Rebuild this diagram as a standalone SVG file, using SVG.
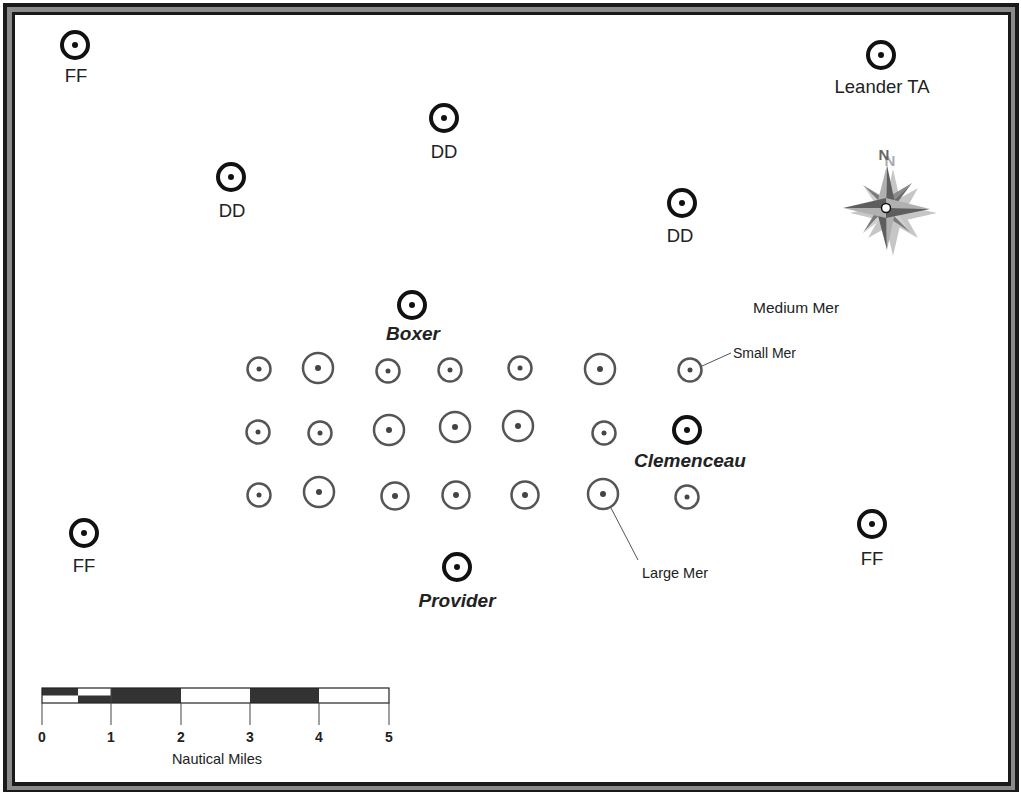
<svg xmlns="http://www.w3.org/2000/svg" width="1021" height="792" viewBox="0 0 1021 792">
<defs>
<style>
.ship circle.o{fill:none;stroke:#111;stroke-width:4}
.ship circle.d{fill:#111}
.mer circle.o{fill:none;stroke:#555;stroke-width:2.5}
.mer circle.d{fill:#444}
.lbl{font-family:"Liberation Sans",Arial,sans-serif;font-size:18.5px;fill:#222;text-anchor:middle}
.name{font-family:"Liberation Sans",Arial,sans-serif;font-size:19px;font-weight:bold;font-style:italic;fill:#222;text-anchor:middle}
.sm{font-family:"Liberation Sans",Arial,sans-serif;fill:#222}
.lead{stroke:#555;stroke-width:1;fill:none}
.num{font-family:"Liberation Sans",Arial,sans-serif;font-size:14px;font-weight:bold;fill:#222;text-anchor:middle}
</style>
</defs>
<rect x="0" y="0" width="1021" height="792" fill="#fff"/>
<!-- frame -->
<rect x="3" y="3" width="1016" height="794" fill="#1a1a1a"/>
<rect x="7" y="7" width="1008" height="783" fill="#8a8a8a"/>
<rect x="12" y="12" width="999" height="774" fill="#1a1a1a"/>
<rect x="15" y="15" width="993" height="767" fill="#fff"/>

<g id="ff-nw" class="ship"><circle class="o" cx="75" cy="45" r="13"/><circle class="d" cx="75" cy="45" r="3"/><text class="lbl" x="76" y="82">FF</text></g>
<g id="leander" class="ship"><circle class="o" cx="881" cy="55" r="13"/><circle class="d" cx="881" cy="55" r="3"/><text class="lbl" x="882" y="93">Leander TA</text></g>
<g id="dd-n" class="ship"><circle class="o" cx="444" cy="118" r="13"/><circle class="d" cx="444" cy="118" r="3"/><text class="lbl" x="444" y="158">DD</text></g>
<g id="dd-w" class="ship"><circle class="o" cx="231" cy="177" r="13"/><circle class="d" cx="231" cy="177" r="3"/><text class="lbl" x="232" y="217">DD</text></g>
<g id="dd-e" class="ship"><circle class="o" cx="682" cy="203" r="13"/><circle class="d" cx="682" cy="203" r="3"/><text class="lbl" x="680" y="242">DD</text></g>
<g id="boxer" class="ship"><circle class="o" cx="412" cy="305" r="13"/><circle class="d" cx="412" cy="305" r="3"/><text class="name" x="413" y="340">Boxer</text></g>
<g id="clemenceau" class="ship"><circle class="o" cx="687" cy="430" r="13"/><circle class="d" cx="687" cy="430" r="3"/><text class="name" x="690" y="467">Clemenceau</text></g>
<g id="ff-sw" class="ship"><circle class="o" cx="84" cy="533" r="13"/><circle class="d" cx="84" cy="533" r="3"/><text class="lbl" x="84" y="572">FF</text></g>
<g id="ff-se" class="ship"><circle class="o" cx="872" cy="524" r="13"/><circle class="d" cx="872" cy="524" r="3"/><text class="lbl" x="872" y="565">FF</text></g>
<g id="provider" class="ship"><circle class="o" cx="457" cy="567" r="13"/><circle class="d" cx="457" cy="567" r="3"/><text class="name" x="457" y="607">Provider</text></g>

<g id="mers" class="mer">
<circle class="o" cx="259" cy="369" r="11.5"/><circle class="d" cx="259" cy="369" r="2.5"/>
<circle class="o" cx="318" cy="368" r="15"/><circle class="d" cx="318" cy="368" r="3"/>
<circle class="o" cx="388" cy="371" r="11.5"/><circle class="d" cx="388" cy="371" r="2.5"/>
<circle class="o" cx="450" cy="370" r="11.5"/><circle class="d" cx="450" cy="370" r="2.5"/>
<circle class="o" cx="520" cy="368" r="11.5"/><circle class="d" cx="520" cy="368" r="2.5"/>
<circle class="o" cx="600" cy="369" r="15"/><circle class="d" cx="600" cy="369" r="3"/>
<circle class="o" cx="690" cy="370" r="11.5"/><circle class="d" cx="690" cy="370" r="2.5"/>

<circle class="o" cx="258" cy="432" r="11.5"/><circle class="d" cx="258" cy="432" r="2.5"/>
<circle class="o" cx="320" cy="433" r="11.5"/><circle class="d" cx="320" cy="433" r="2.5"/>
<circle class="o" cx="389" cy="430" r="15"/><circle class="d" cx="389" cy="430" r="3"/>
<circle class="o" cx="455" cy="427" r="15"/><circle class="d" cx="455" cy="427" r="3"/>
<circle class="o" cx="518" cy="426" r="15"/><circle class="d" cx="518" cy="426" r="3"/>
<circle class="o" cx="604" cy="433" r="11.5"/><circle class="d" cx="604" cy="433" r="2.5"/>

<circle class="o" cx="259" cy="495" r="11.5"/><circle class="d" cx="259" cy="495" r="2.5"/>
<circle class="o" cx="319" cy="492" r="15"/><circle class="d" cx="319" cy="492" r="3"/>
<circle class="o" cx="395" cy="496" r="13.5"/><circle class="d" cx="395" cy="496" r="3"/>
<circle class="o" cx="456" cy="495" r="13.5"/><circle class="d" cx="456" cy="495" r="3"/>
<circle class="o" cx="525" cy="495" r="13.5"/><circle class="d" cx="525" cy="495" r="3"/>
<circle class="o" cx="603" cy="494" r="15"/><circle class="d" cx="603" cy="494" r="3"/>
<circle class="o" cx="687" cy="497" r="11.5"/><circle class="d" cx="687" cy="497" r="2.5"/>
</g>

<g id="connectors">
<line class="lead" x1="702" y1="366" x2="731" y2="353"/>
<line class="lead" x1="611" y1="508" x2="638" y2="560"/>
</g>

<g id="labels">
<text class="sm" x="753" y="313" font-size="15.5">Medium Mer</text>
<text class="sm" x="733" y="358" font-size="14">Small Mer</text>
<text class="sm" x="642" y="578" font-size="14.5">Large Mer</text>
</g>

<g id="compass">
<g transform="translate(893,213)" fill="#c6c6c6">
<polygon points="0,-44 10,0 0,43 -10,0"/>
<polygon points="-43,0 0,-10 44,0 0,10"/>
<polygon points="-25,-25 7,-7 25,25 -7,7"/>
<polygon points="25,-25 7,7 -25,25 -7,-7"/>
</g>
<g transform="translate(886,208)">
<polygon points="26,-25 0,0 7,-7" fill="#d9d9d9"/><polygon points="26,-25 0,0 -1,-9" fill="#8a8a8a"/>
<polygon points="26,-25 8,-1 0,0" fill="#6a6a6a"/>
<polygon points="-23,-23 -8,0 0,0" fill="#d0d0d0"/><polygon points="-23,-23 0,-8 0,0" fill="#7a7a7a"/>
<polygon points="24,24 8,0 0,0" fill="#d0d0d0"/><polygon points="24,24 0,8 0,0" fill="#7a7a7a"/>
<polygon points="-23,25 -8,0 0,0" fill="#7a7a7a"/><polygon points="-23,25 0,8 0,0" fill="#d0d0d0"/>
<polygon points="1,-43 -10,0 0,0" fill="#b0b0b0"/><polygon points="1,-43 10,0 0,0" fill="#5e5e5e"/>
<polygon points="1,42 10,0 0,0" fill="#b0b0b0"/><polygon points="1,42 -10,0 0,0" fill="#5e5e5e"/>
<polygon points="44,1 0,-10 0,0" fill="#b0b0b0"/><polygon points="44,1 0,10 0,0" fill="#5e5e5e"/>
<polygon points="-43,0 0,10 0,0" fill="#b0b0b0"/><polygon points="-43,0 0,-10 0,0" fill="#5e5e5e"/>
<circle cx="0" cy="0" r="4.5" fill="#fff" stroke="#111" stroke-width="1.5"/>
</g>
<text x="890" y="166" font-family="Liberation Sans,Arial,sans-serif" font-size="15" font-weight="bold" fill="#aaa" text-anchor="middle">N</text>
<text x="884" y="160" font-family="Liberation Sans,Arial,sans-serif" font-size="15" font-weight="bold" fill="#666" text-anchor="middle">N</text>
</g>

<g id="scale">
<rect x="42" y="688" width="347" height="15" fill="#fff"/>
<rect x="42" y="688" width="36" height="7.5" fill="#333"/>
<rect x="78" y="695.5" width="33" height="7.5" fill="#333"/>
<rect x="111" y="688" width="70" height="15" fill="#333"/>
<rect x="250" y="688" width="69" height="15" fill="#333"/>
<rect x="42" y="688" width="347" height="15" fill="none" stroke="#222" stroke-width="1.2"/>
<g stroke="#444" stroke-width="1">
<line x1="42" y1="703" x2="42" y2="725"/><line x1="111" y1="688" x2="111" y2="725"/>
<line x1="181" y1="703" x2="181" y2="725"/><line x1="250" y1="703" x2="250" y2="725"/>
<line x1="319" y1="703" x2="319" y2="725"/><line x1="389" y1="703" x2="389" y2="725"/>
</g>
<text class="num" x="42" y="742">0</text><text class="num" x="111" y="742">1</text>
<text class="num" x="181" y="742">2</text><text class="num" x="250" y="742">3</text>
<text class="num" x="319" y="742">4</text><text class="num" x="389" y="742">5</text>
<text class="sm" x="217" y="764" font-size="14.5" text-anchor="middle">Nautical Miles</text>
</g>
</svg>
